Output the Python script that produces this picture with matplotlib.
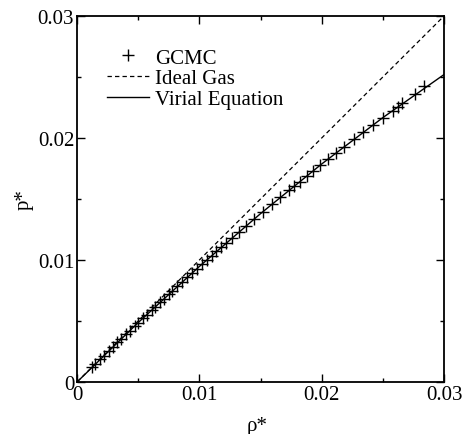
"""Reduced pressure vs reduced density: GCMC, ideal gas and virial equation."""
import numpy as np
import matplotlib
matplotlib.use('Agg')
from matplotlib import pyplot as plt

plt.rcParams['font.family'] = 'Liberation Serif'

#
# Data
#

## GCMC points
rho_gcmc = [0.0012, 0.0015, 0.0019, 0.0022, 0.0026, 0.0029, 0.0033, 0.0036,
            0.0040, 0.0043, 0.0047, 0.0050, 0.0054, 0.0057, 0.0061, 0.0064,
            0.0068, 0.0071, 0.0075, 0.0078, 0.0082, 0.0086, 0.0090, 0.0094,
            0.0098, 0.0102, 0.0106, 0.0110, 0.0114, 0.0118, 0.0122, 0.0127,
            0.0132, 0.0138, 0.0145, 0.0152, 0.0159, 0.0166, 0.0173, 0.0177,
            0.0182, 0.0188, 0.0193, 0.0199, 0.0205, 0.0212, 0.0218, 0.0226,
            0.0234, 0.0242, 0.0250, 0.0258, 0.0262, 0.0266, 0.0276, 0.0284]
p_gcmc = [0.00119, 0.00149, 0.00188, 0.00217, 0.00256, 0.00286, 0.00324,
          0.00353, 0.00391, 0.00420, 0.00458, 0.00487, 0.00524, 0.00553,
          0.00590, 0.00618, 0.00655, 0.00683, 0.00720, 0.00748, 0.00784,
          0.00821, 0.00857, 0.00893, 0.00929, 0.00965, 0.01000, 0.01036,
          0.01071, 0.01106, 0.01141, 0.01184, 0.01227, 0.01278, 0.01338,
          0.01397, 0.01455, 0.01513, 0.01570, 0.01603, 0.01643, 0.01692,
          0.01731, 0.01779, 0.01826, 0.01880, 0.01927, 0.01988, 0.02048,
          0.02108, 0.02167, 0.02225, 0.02254, 0.02283, 0.02360, 0.02430]

## Ideal gas line
rho_ideal = [0.0, 0.03]
p_ideal = [0.0, 0.03]

## Virial equation curve
rho_virial = [0.0, 0.005, 0.010, 0.015, 0.020, 0.025, 0.030]
p_virial = [0.0, 0.00487, 0.00947, 0.01380, 0.01787, 0.02167, 0.02520]

## Ticks
major_ticks = [0.0, 0.01, 0.02, 0.03]
minor_ticks = [0.005, 0.015, 0.025]
tick_labels = ['0', '0.01', '0.02', '0.03']


#
# Plot
#
fig = plt.figure(figsize=(4.64, 4.35), dpi=100)
ax = fig.add_axes([0.166, 0.1195, 0.791, 0.8415])

ax.plot(rho_gcmc, p_gcmc, 'k+', ms=8, mew=1.0, ls='none', label='GCMC')
ax.plot(rho_ideal, p_ideal, 'k--', lw=0.9, dashes=(3.5, 2.5), label='Ideal Gas')
ax.plot(rho_virial, p_virial, 'k-', lw=1.0, label='Virial Equation')

ax.set_xlim(0, 0.03)
ax.set_ylim(0, 0.03)
ax.set_xticks(major_ticks)
ax.set_xticklabels(tick_labels)
ax.set_yticks(major_ticks)
ax.set_yticklabels(tick_labels)
ax.set_xticks(minor_ticks, minor=True)
ax.set_yticks(minor_ticks, minor=True)
ax.tick_params(which='both', direction='in', top=True, right=True,
               labelsize=15, width=1.0)
ax.tick_params(which='major', length=6, pad=2)
ax.tick_params(which='minor', length=3)
for sp in ax.spines.values():
    sp.set_linewidth(1.3)

ax.set_xlabel('ρ*', fontsize=15)
ax.set_ylabel('p*', fontsize=15)
ax.xaxis.set_label_coords(0.49, -0.093, transform=ax.transAxes)
ax.yaxis.set_label_coords(-0.118, 0.50, transform=ax.transAxes)

ax.legend(loc='upper left', frameon=False, fontsize=15, handlelength=2.0,
          handletextpad=0.3, labelspacing=0.05, borderaxespad=0.0,
          bbox_to_anchor=(0.06, 0.935), numpoints=1)

plt.savefig('out.png', dpi=100)
